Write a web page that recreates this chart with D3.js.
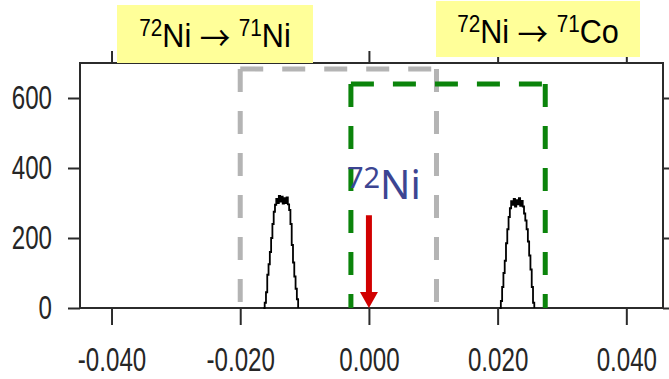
<!DOCTYPE html>
<html>
<head>
<meta charset="utf-8">
<script src="https://cdn.jsdelivr.net/npm/d3@7"></script>
<style>
  html, body { margin: 0; padding: 0; background: #fff; }
  svg { display: block; }
</style>
</head>
<body>
<svg id="chart" width="669" height="379"></svg>
<script>
// Tick values for both axes
const xTicks = [-0.040, -0.020, 0.000, 0.020, 0.040];
const yTicks = [0, 200, 400, 600];

// Counts of the two separated peaks (position, counts)
const peakNi = [
  [-0.0164, 0], [-0.0162, 15], [-0.0160, 45], [-0.0158, 95], [-0.0156, 125],
  [-0.0154, 160], [-0.0152, 200], [-0.0150, 240], [-0.0148, 275], [-0.0146, 295],
  [-0.0144, 312], [-0.0142, 300], [-0.0140, 320], [-0.0138, 304], [-0.0136, 318],
  [-0.0134, 298], [-0.0132, 314], [-0.0130, 300], [-0.0128, 316], [-0.0126, 296],
  [-0.0124, 280], [-0.0122, 240], [-0.0120, 180], [-0.0118, 130], [-0.0116, 90],
  [-0.0114, 55], [-0.0112, 25], [-0.0110, 0]
];
const peakCo = [
  [0.0203, 0], [0.0205, 20], [0.0207, 60], [0.0209, 100], [0.0211, 135],
  [0.0213, 185], [0.0215, 225], [0.0217, 260], [0.0219, 285], [0.0221, 305],
  [0.0223, 295], [0.0225, 312], [0.0227, 290], [0.0229, 308], [0.0231, 296],
  [0.0233, 314], [0.0235, 292], [0.0237, 306], [0.0239, 290], [0.0241, 270],
  [0.0243, 250], [0.0245, 225], [0.0247, 190], [0.0249, 150], [0.0251, 110],
  [0.0253, 60], [0.0255, 15], [0.0257, 0]
];

// Acceptance windows: [x0, x1, top count]
const windowNi = [-0.0200, 0.0105, 683];
const windowCo = [-0.0028, 0.0274, 640];

// Beam position marker: [x, top count]
const beamMarker = [0.000, 265];

const svg = d3.select("#chart");
const x = d3.scaleLinear().domain([-0.0449, 0.0457]).range([80, 663]);
const y = d3.scaleLinear().domain([0, 700]).range([308, 63]);

const axisColor = "#2b2b2b";
const squeeze = 0.71;   // condensed tick lettering

// Plot frame
svg.append("rect")
  .attr("x", x.range()[0]).attr("y", y.range()[1])
  .attr("width", x.range()[1] - x.range()[0])
  .attr("height", y.range()[0] - y.range()[1])
  .attr("fill", "none").attr("stroke", axisColor).attr("stroke-width", 2);

function styleAxis(g, showText) {
  g.select(".domain").remove();
  g.selectAll(".tick line").attr("stroke", axisColor).attr("stroke-width", 2);
  if (!showText) { g.selectAll(".tick text").remove(); return; }
  g.selectAll(".tick text")
    .attr("fill", "#262626")
    .style("font-family", "'Liberation Sans', Arial, sans-serif")
    .style("font-size", "34px")
    .attr("x", function () { return (+d3.select(this).attr("x") || 0) / squeeze; })
    .attr("transform", `scale(${squeeze},1)`);
}

const hyphenFmt = f => d => f(d).replace("\u2212", "-");

// Bottom axis
svg.append("g").attr("transform", `translate(0,${y(0)})`)
  .call(d3.axisBottom(x).tickValues(xTicks).tickFormat(hyphenFmt(d3.format(".3f"))).tickSize(17).tickPadding(22))
  .call(g => styleAxis(g, true));

// Top axis (ticks only)
svg.append("g").attr("transform", `translate(0,${y.range()[1]})`)
  .call(d3.axisTop(x).tickValues(xTicks).tickSize(12))
  .call(g => styleAxis(g, false));

// Left axis
svg.append("g").attr("transform", `translate(${x.range()[0]},0)`)
  .call(d3.axisLeft(y).tickValues(yTicks).tickFormat(d3.format("d")).tickSize(12).tickPadding(16))
  .call(g => styleAxis(g, true));

// Right axis (ticks only)
svg.append("g").attr("transform", `translate(${x.range()[1]},0)`)
  .call(d3.axisRight(y).tickValues(yTicks).tickSize(12))
  .call(g => styleAxis(g, false));

// Dashed acceptance windows, each side dashed from its top corner
function dashedWindow(win, color) {
  const [x0, x1, top] = win;
  const segs = [
    [[x(x0), y(top)], [x(x0), y(0)]],
    [[x(x0), y(top)], [x(x1), y(top)]],
    [[x(x1), y(top)], [x(x1), y(0)]]
  ];
  svg.append("g").selectAll("path").data(segs).join("path")
    .attr("d", d => d3.line()(d))
    .attr("fill", "none")
    .attr("stroke", color)
    .attr("stroke-width", 5)
    .attr("stroke-dasharray", "23 19");
}
dashedWindow(windowNi, "#b4b4b4");
dashedWindow(windowCo, "#0b840b");

// Peaks
const peakLine = d3.line().x(d => x(d[0])).y(d => y(d[1])).curve(d3.curveStepAfter);
[peakNi, peakCo].forEach(p => {
  svg.append("path").datum(p)
    .attr("d", peakLine)
    .attr("fill", "none")
    .attr("stroke", "#000")
    .attr("stroke-width", 1.8);
});

// Beam marker arrow
const ax = x(beamMarker[0]);
const headH = 16, headW = 18, shaftW = 6;
svg.append("rect")
  .attr("x", ax - shaftW / 2).attr("y", y(beamMarker[1]))
  .attr("width", shaftW).attr("height", y(0) - headH - y(beamMarker[1]) + 1)
  .attr("fill", "#d10000");
svg.append("path")
  .attr("d", `M${ax - headW / 2},${y(0) - headH} L${ax + headW / 2},${y(0) - headH} L${ax},${y(0)} Z`)
  .attr("fill", "#d10000");

// Beam label
const lbl = svg.append("text")
  .attr("x", ax - 22).attr("y", 199)
  .attr("fill", "#3c4592")
  .style("font-family", "'Noto Sans', sans-serif")
  .style("font-size", "40px");
lbl.append("tspan").attr("font-size", "29px").attr("dy", "-11").text("72");
lbl.append("tspan").attr("dy", "11").text("Ni");

// Reaction channel labels
const channels = [
  { box: [117, 5, 196, 58], cx: 215, base: 47, from: "72", fromEl: "Ni", to: "71", toEl: "Ni" },
  { box: [436, 1, 204, 56], cx: 538, base: 43, from: "72", fromEl: "Ni", to: "71", toEl: "Co" }
];
channels.forEach(c => {
  svg.append("rect")
    .attr("x", c.box[0]).attr("y", c.box[1])
    .attr("width", c.box[2]).attr("height", c.box[3])
    .attr("fill", "#ffff99");
  const t = svg.append("text")
    .attr("transform", `translate(${c.cx},${c.base}) scale(0.9,1)`)
    .attr("text-anchor", "middle")
    .attr("fill", "#000")
    .style("font-family", "'Liberation Sans', Arial, sans-serif")
    .style("font-size", "34px");
  t.append("tspan").attr("font-size", "23px").attr("dy", "-11").text(c.from);
  t.append("tspan").attr("dy", "11").text(c.fromEl + " ");
  t.append("tspan").attr("font-family", "'Noto Sans CJK JP', sans-serif")
    .attr("font-size", "34px").attr("dy", "4").text("\u2192");
  t.append("tspan").attr("dy", "-4").text(" ");
  t.append("tspan").attr("font-size", "23px").attr("dy", "-11").text(c.to);
  t.append("tspan").attr("dy", "11").text(c.toEl);
});
</script>
</body>
</html>
